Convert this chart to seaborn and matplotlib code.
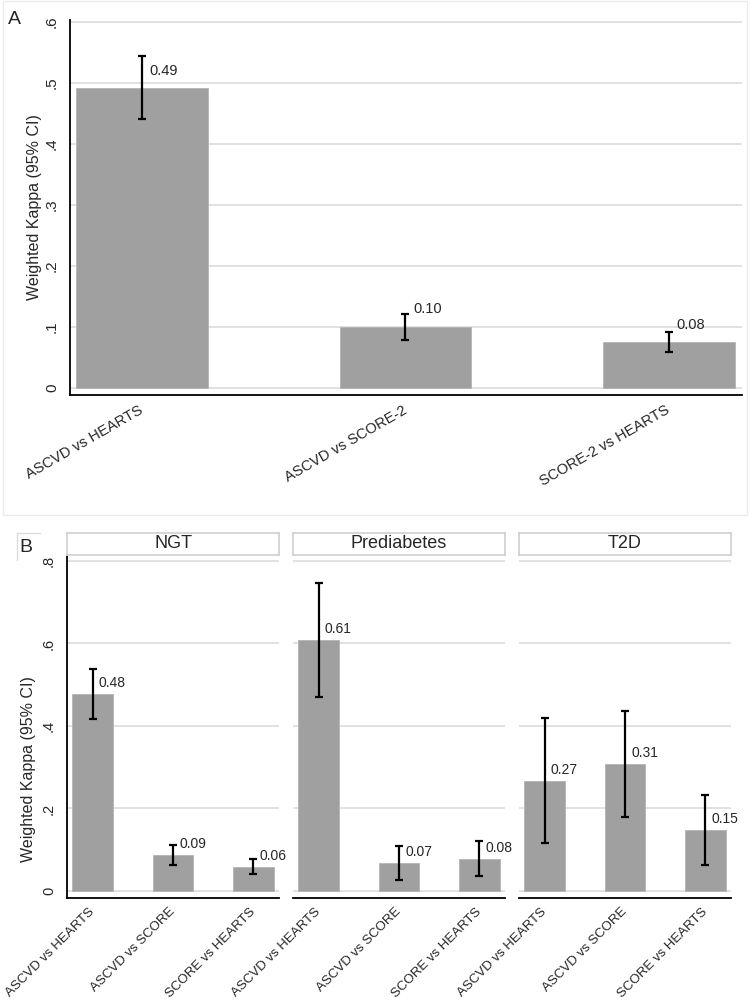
import numpy as np
import pandas as pd
import matplotlib
matplotlib.use("Agg")
import matplotlib.pyplot as plt
from matplotlib.patches import Rectangle
import seaborn as sns

# panel A: overall agreement
pairs_a = ["ASCVD vs HEARTS", "ASCVD vs SCORE-2", "SCORE-2 vs HEARTS"]
kappa_a = [0.491, 0.100, 0.075]
lo_a = [0.440, 0.079, 0.059]
hi_a = [0.544, 0.121, 0.092]
lab_a = ["0.49", "0.10", "0.08"]

# panel B: by glycaemic status
groups = ["NGT", "Prediabetes", "T2D"]
pairs_b = ["ASCVD vs HEARTS", "ASCVD vs SCORE", "SCORE vs HEARTS"]
kappa_b = {"NGT": [0.478, 0.088, 0.058],
           "Prediabetes": [0.608, 0.067, 0.077],
           "T2D": [0.267, 0.307, 0.147]}
lo_b = {"NGT": [0.418, 0.064, 0.040],
        "Prediabetes": [0.470, 0.027, 0.036],
        "T2D": [0.117, 0.179, 0.063]}
hi_b = {"NGT": [0.538, 0.112, 0.077],
        "Prediabetes": [0.747, 0.110, 0.120],
        "T2D": [0.419, 0.436, 0.232]}
lab_b = {"NGT": ["0.48", "0.09", "0.06"],
         "Prediabetes": ["0.61", "0.07", "0.08"],
         "T2D": ["0.27", "0.31", "0.15"]}

sns.set_style("white")
plt.rcParams['font.family'] = ['Liberation Sans', 'DejaVu Sans']

bar_col = "#a0a0a0"
grid_col = "#dcdcdc"


def fmt_tick(v):
    if abs(v) < 1e-9:
        return "0"
    return ("%.1f" % v).lstrip("0")


def style_axes(ax, ticks, left=True, fs=10):
    ax.set_yticks(ticks)
    for t in ticks:
        ax.axhline(t, color=grid_col, lw=1.2, zorder=0)
    for s in ["top", "right"]:
        ax.spines[s].set_visible(False)
    ax.spines["bottom"].set_color("black")
    ax.spines["bottom"].set_linewidth(1.3)
    if left:
        ax.spines["left"].set_color("black")
        ax.spines["left"].set_linewidth(1.3)
        ax.set_yticklabels([fmt_tick(t) for t in ticks], rotation=90,
                           va="center", fontsize=fs)
        ax.tick_params(axis="y", length=5, width=1, color="black", pad=3)
    else:
        ax.spines["left"].set_visible(False)
        ax.set_yticklabels([])
        ax.tick_params(axis="y", length=0)
    ax.tick_params(axis="x", length=5, width=1, color="black", pad=1)
    ax.set_xlabel("")


fig = plt.figure(figsize=(7.5, 10), dpi=100)

# ---- panel A ----
axA = fig.add_axes([70 / 750, 1 - 395 / 1000, 672 / 750, 375 / 1000])
dfa = pd.DataFrame({"pair": pairs_a, "kappa": kappa_a})
sns.barplot(data=dfa, x="pair", y="kappa", order=pairs_a, color=bar_col,
            saturation=1, width=0.5, edgecolor="#b4b4b4", linewidth=0.6,
            ax=axA, zorder=2)
xa = np.arange(len(pairs_a))
ka = np.array(kappa_a)
axA.errorbar(xa, ka, yerr=[ka - np.array(lo_a), np.array(hi_a) - ka],
             fmt="none", ecolor="black", elinewidth=1.6, capsize=3,
             capthick=1.6, zorder=3)
for i, t in enumerate(lab_a):
    axA.annotate(t, (xa[i], ka[i]), xytext=(5.5, 12.5), textcoords="offset points",
                 fontsize=10.5, va="center", ha="left")
axA.set_xlim(-0.273, 2.277)
axA.set_ylim(-0.012, 0.603)
style_axes(axA, [0, 0.1, 0.2, 0.3, 0.4, 0.5, 0.6], fs=11)
axA.set_ylabel("Weighted Kappa (95% CI)", fontsize=11.5)
axA.yaxis.set_label_coords(-28 / 672, 0.5)
axA.set_xticks(xa)
axA.set_xticklabels(pairs_a, rotation=30, ha="right", va="center",
                    rotation_mode="anchor", fontsize=10.5)
for lbl in axA.get_xticklabels():
    lbl.set_y(-0.015)
fig.text(8 / 750, 1 - 20 / 1000, "A", fontsize=14, va="center", ha="left")
fig.patches.append(Rectangle((3 / 750, 1 - 515 / 1000), 744 / 750, 514 / 1000,
                             transform=fig.transFigure, fill=False,
                             edgecolor="#ececec", lw=1))

# ---- panel B ----
lefts = [67, 293, 519]
pw = 212
xb = np.arange(len(pairs_b))
for j, g in enumerate(groups):
    ax = fig.add_axes([lefts[j] / 750, 1 - 898 / 1000, pw / 750, 342 / 1000])
    dfb = pd.DataFrame({"pair": pairs_b, "kappa": kappa_b[g]})
    sns.barplot(data=dfb, x="pair", y="kappa", order=pairs_b, color=bar_col,
                saturation=1, width=0.5, edgecolor="#b4b4b4", linewidth=0.6,
                ax=ax, zorder=2)
    kb = np.array(kappa_b[g])
    ax.errorbar(xb, kb, yerr=[kb - np.array(lo_b[g]), np.array(hi_b[g]) - kb],
                fmt="none", ecolor="black", elinewidth=1.6, capsize=2.6,
                capthick=1.6, zorder=3)
    for i, t in enumerate(lab_b[g]):
        ax.annotate(t, (xb[i], kb[i]), xytext=(4.5, 8),
                    textcoords="offset points", fontsize=10,
                    va="center", ha="left")
    ax.set_xlim(-0.317, 2.317)
    ax.set_ylim(-0.017, 0.812)
    style_axes(ax, [0, 0.2, 0.4, 0.6, 0.8], left=(j == 0), fs=10.5)
    if j == 0:
        ax.set_ylabel("Weighted Kappa (95% CI)", fontsize=11.5)
        # centred over the whole lower block, as in the original
        ax.yaxis.set_label_coords(-31 / pw, (898 - 769) / 342)
    else:
        ax.set_ylabel("")
    ax.set_xticks(xb)
    ax.set_xticklabels(pairs_b, rotation=45, ha="right", va="center",
                       rotation_mode="anchor", fontsize=9.5)
    for lbl in ax.get_xticklabels():
        lbl.set_y(-0.01)
    # strip header
    sax = fig.add_axes([lefts[j] / 750, 1 - 555 / 1000, pw / 750, 22 / 1000])
    sax.set_xticks([])
    sax.set_yticks([])
    for s in sax.spines.values():
        s.set_color("#cfcfcf")
        s.set_linewidth(1.2)
    sax.text(0.5, 0.5, g, ha="center", va="center", fontsize=13,
             transform=sax.transAxes)

fig.text(19 / 750, 1 - 548 / 1000, "B", fontsize=14, va="center", ha="left")
fig.lines.append(plt.Line2D([17 / 750, 40 / 750], [1 - 533 / 1000, 1 - 533 / 1000],
                            transform=fig.transFigure, color="#dcdcdc", lw=1))
fig.lines.append(plt.Line2D([17 / 750, 17 / 750], [1 - 533 / 1000, 1 - 560 / 1000],
                            transform=fig.transFigure, color="#dcdcdc", lw=1))

fig.savefig("out.png", dpi=100)
